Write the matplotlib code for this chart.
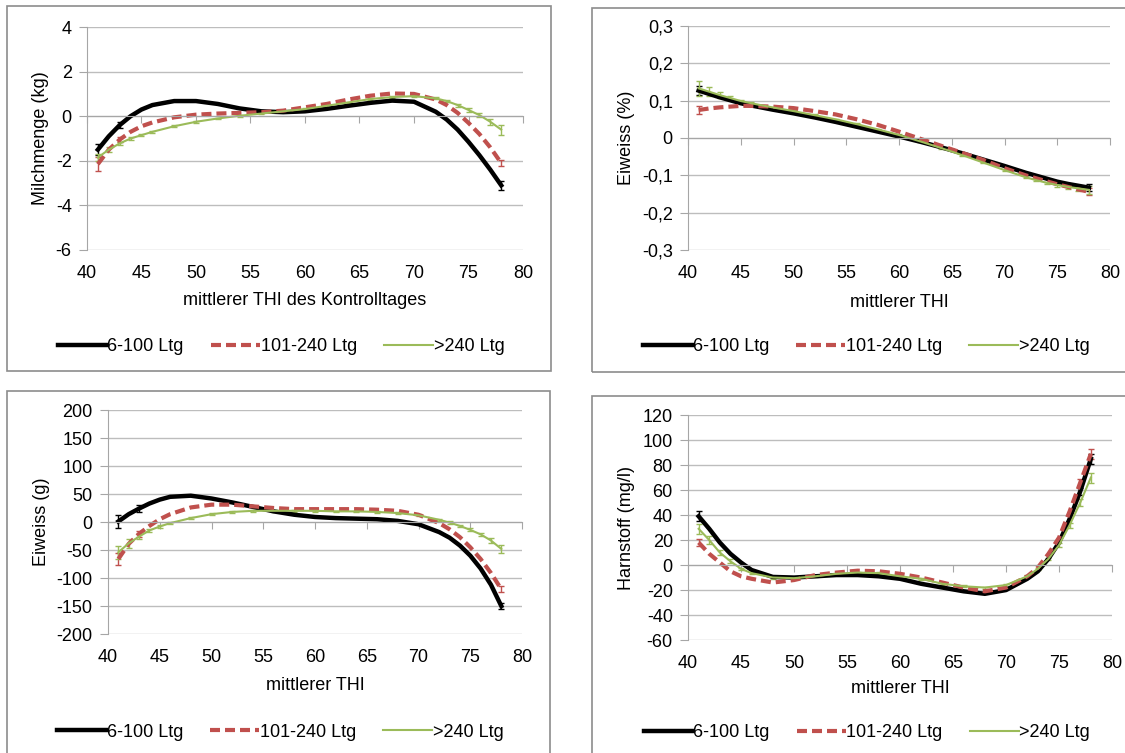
import matplotlib.pyplot as plt
import numpy as np
from matplotlib.patches import Rectangle
from matplotlib.ticker import FixedLocator, FixedFormatter

plt.rcParams['font.family'] = ['Liberation Sans', 'DejaVu Sans']
plt.rcParams['axes.unicode_minus'] = False

# THI values (x) shared by every series
thi = [41, 42, 43, 44, 45, 46, 48, 50, 52, 54, 56, 58, 60, 62, 64, 66, 68, 70, 72, 73, 74, 75, 76, 77, 78]
labels = ['6-100 Ltg', '101-240 Ltg', '>240 Ltg']
N = None  # error bar hidden under the thick line

# Milchmenge (kg)
milch_a = [-1.5, -0.9, -0.4, 0.0, 0.3, 0.5, 0.68, 0.68, 0.55, 0.35, 0.22, 0.18, 0.22, 0.33, 0.47, 0.6, 0.7, 0.65, 0.2, -0.15, -0.6, -1.15, -1.75, -2.4, -3.1]
milch_b = [-2.15, -1.5, -1.05, -0.7, -0.45, -0.28, -0.05, 0.07, 0.12, 0.15, 0.18, 0.25, 0.4, 0.55, 0.75, 0.92, 1.02, 1.0, 0.75, 0.5, 0.15, -0.3, -0.8, -1.4, -2.1]
milch_c = [-1.85, -1.5, -1.22, -1.0, -0.85, -0.7, -0.45, -0.25, -0.1, 0.02, 0.12, 0.22, 0.32, 0.47, 0.62, 0.77, 0.86, 0.9, 0.8, 0.68, 0.5, 0.28, 0.05, -0.25, -0.6]
milch_err_a = [0.26, N, 0.12, N, N, N, N, N, N, N, N, N, N, N, N, N, N, N, N, N, N, N, N, N, 0.2]
milch_err_b = [0.3, N, 0.12, N, N, N, N, N, N, N, N, N, N, N, N, N, N, N, N, N, N, N, N, N, 0.15]
milch_err_c = [0.15, 0.1, 0.07, 0.05, 0.05, 0.05, 0.04, 0.04, 0.04, 0.04, 0.04, 0.04, 0.04, 0.04, 0.04, 0.04, 0.04, 0.04, 0.05, 0.06, 0.07, 0.08, 0.1, 0.14, 0.22]

# Eiweiss (%)
eiw_pct_a = [0.127, 0.118, 0.109, 0.101, 0.093, 0.087, 0.076, 0.066, 0.055, 0.043, 0.030, 0.017, 0.004, -0.010, -0.025, -0.041, -0.058, -0.075, -0.093, -0.101, -0.109, -0.117, -0.123, -0.128, -0.133]
eiw_pct_b = [0.075, 0.079, 0.082, 0.084, 0.086, 0.086, 0.084, 0.080, 0.072, 0.063, 0.050, 0.035, 0.017, -0.002, -0.021, -0.040, -0.059, -0.081, -0.100, -0.108, -0.116, -0.124, -0.131, -0.138, -0.144]
eiw_pct_c = [0.133, 0.124, 0.115, 0.107, 0.099, 0.093, 0.082, 0.072, 0.061, 0.050, 0.037, 0.023, 0.008, -0.009, -0.027, -0.046, -0.066, -0.086, -0.105, -0.113, -0.120, -0.126, -0.131, -0.135, -0.139]
eiw_pct_err_a = [0.012, N, N, N, N, N, N, N, N, N, N, N, N, N, N, N, N, N, N, N, N, N, N, N, 0.01]
eiw_pct_err_b = [0.012, N, N, N, N, N, N, N, N, N, N, N, N, N, N, N, N, N, N, N, N, N, N, N, 0.01]
eiw_pct_err_c = [0.02, 0.012, 0.008, 0.005, 0.004, 0.003, 0.002, 0.002, 0.002, 0.002, 0.002, 0.002, 0.002, 0.002, 0.002, 0.002, 0.002, 0.002, 0.002, 0.003, 0.003, 0.004, 0.005, 0.007, 0.01]

# Eiweiss (g)
eiw_g_a = [1, 14, 24, 33, 40, 45, 47, 42, 35, 27, 19, 13, 9, 7, 6, 5, 2, -4, -18, -28, -42, -60, -83, -112, -150]
eiw_g_b = [-66, -39, -21, -7, 5, 14, 26, 31, 31, 28, 25, 23, 23, 23, 23, 22, 20, 13, -2, -13, -27, -45, -66, -91, -120]
eiw_g_c = [-54, -38, -26, -15, -8, -2, 7, 14, 18, 20, 20, 20, 20, 19, 19, 18, 16, 12, 4, -1, -7, -14, -22, -33, -48]
eiw_g_err_a = [12, N, 6, N, N, N, N, N, N, N, N, N, N, N, N, N, N, N, N, N, N, N, N, N, 5]
eiw_g_err_b = [10, N, 5, N, N, N, N, N, N, N, N, N, N, N, N, N, N, N, N, N, N, N, N, N, 5]
eiw_g_err_c = [12, 8, 5, 3, 2, 2, 1.5, 1.5, 1.5, 1.5, 1.5, 1.5, 1.5, 1.5, 1.5, 1.5, 1.5, 1.5, 1.5, 2, 2, 2.5, 3, 5, 7]

# Harnstoff (mg/l)
harn_a = [39, 29, 18, 9, 2, -4, -9.5, -10, -9, -8, -8, -9, -11, -15, -18, -21, -23, -20, -11, -5, 5, 18, 37, 59, 85]
harn_b = [18, 9, 2, -5, -9, -11, -14, -12, -8, -6, -4.5, -5, -7, -10, -14, -18, -21, -18, -9, -2, 9, 22, 43, 66, 89]
harn_c = [29, 20, 10, 3, -3, -6.5, -10, -10.5, -9, -7, -6, -6.5, -9, -11, -15, -17, -18, -16, -9, -3, 5, 16, 32, 50, 70]
harn_err_a = [4, N, N, N, N, N, N, N, N, N, N, N, N, N, N, N, N, N, N, N, N, N, N, 3, 4]
harn_err_b = [3, N, N, N, N, N, N, N, N, N, N, N, N, N, N, N, N, N, N, N, N, N, N, 3, 4]
harn_err_c = [4, 3, 2, 1.5, 1, 1, 0.8, 0.8, 0.8, 0.8, 0.8, 0.8, 0.8, 0.8, 0.8, 0.8, 0.8, 0.8, 0.8, 1, 1, 1.5, 2, 3, 4]

colors = ['#000000', '#C0504D', '#9BBB59']
widths = [3.2, 3.0, 1.5]

panels = [
    dict(rect=[0.0773, 0.668, 0.3876, 0.2961], frame=(7, 6, 551, 371),
         series=[milch_a, milch_b, milch_c], errs=[milch_err_a, milch_err_b, milch_err_c],
         ylim=(-6, 4), yticks=[-6, -4, -2, 0, 2, 4], yticklabels=['-6', '-4', '-2', '0', '2', '4'],
         ylabel='Milchmenge (kg)', xlabel='mittlerer THI des Kontrolltages',
         ylab_x=-0.087, xlab_y=-0.188, leg=(0.445, -0.435)),
    dict(rect=[0.6116, 0.668, 0.3751, 0.2975], frame=(592, 8, 1140, 372),
         series=[eiw_pct_a, eiw_pct_b, eiw_pct_c], errs=[eiw_pct_err_a, eiw_pct_err_b, eiw_pct_err_c],
         ylim=(-0.3, 0.3), yticks=[-0.3, -0.2, -0.1, 0, 0.1, 0.2, 0.3],
         yticklabels=['-0,3', '-0,2', '-0,1', '0', '0,1', '0,2', '0,3'],
         ylabel='Eiweiss (%)', xlabel='mittlerer THI',
         ylab_x=-0.126, xlab_y=-0.196, leg=(0.422, -0.433)),
    dict(rect=[0.096, 0.158, 0.368, 0.2975], frame=(7, 391, 550, 770),
         series=[eiw_g_a, eiw_g_b, eiw_g_c], errs=[eiw_g_err_a, eiw_g_err_b, eiw_g_err_c],
         ylim=(-200, 200), yticks=list(range(-200, 201, 50)),
         yticklabels=[str(v) for v in range(-200, 201, 50)],
         ylabel='Eiweiss (g)', xlabel='mittlerer THI',
         ylab_x=-0.140, xlab_y=-0.192, leg=(0.416, -0.4375)),
    dict(rect=[0.6116, 0.150, 0.3769, 0.2988], frame=(592, 396, 1140, 770),
         series=[harn_a, harn_b, harn_c], errs=[harn_err_a, harn_err_b, harn_err_c],
         ylim=(-60, 120), yticks=list(range(-60, 121, 20)),
         yticklabels=[str(v) for v in range(-60, 121, 20)],
         ylabel='Harnstoff (mg/l)', xlabel='mittlerer THI',
         ylab_x=-0.125, xlab_y=-0.178, leg=(0.422, -0.413)),
]

W, H = 1125, 753
fig = plt.figure(figsize=(W / 100, H / 100), dpi=100)

for p in panels:
    x0, y0, x1, y1 = p['frame']
    fig.patches.append(Rectangle((x0 / W, 1 - y1 / H), (x1 - x0) / W, (y1 - y0) / H,
                                 transform=fig.transFigure, fill=False,
                                 edgecolor='#8C8C8C', linewidth=1.2))

    ax = fig.add_axes(p['rect'])
    ax.set_xlim(40, 80)
    ax.set_ylim(*p['ylim'])
    ax.yaxis.set_major_locator(FixedLocator(p['yticks']))
    ax.yaxis.set_major_formatter(FixedFormatter(p['yticklabels']))
    ax.grid(axis='y', color='#BDBDBD', linewidth=1.0)
    ax.set_axisbelow(True)

    for s in ['top', 'right']:
        ax.spines[s].set_visible(False)
    ax.spines['left'].set_color('#A6A6A6')
    ax.spines['bottom'].set_color('#A6A6A6')
    ax.spines['bottom'].set_position(('data', 0))
    ax.set_xticks(range(40, 81, 5))
    ax.tick_params(axis='x', labelbottom=False, direction='out', length=5, color='#A6A6A6')
    ax.tick_params(axis='y', direction='out', length=6, color='#A6A6A6', labelsize=13, pad=5)

    sec = ax.secondary_xaxis('bottom')
    sec.spines['bottom'].set_visible(False)
    sec.set_xticks(range(40, 81, 5))
    sec.tick_params(length=0, labelsize=13, pad=11)

    handles = []
    for i, (vals, err) in enumerate(zip(p['series'], p['errs'])):
        yerr = np.array([np.nan if e is None else e for e in err], dtype=float)
        eb = ax.errorbar(thi, vals, yerr=yerr, color=colors[i], linewidth=widths[i],
                         elinewidth=1.0, capsize=2.5, capthick=1.0, label=labels[i])
        if i == 1:
            eb.lines[0].set_dashes((2.4, 1.2))
        handles.append(eb.lines[0])

    ax.set_ylabel(p['ylabel'], fontsize=13)
    ax.yaxis.set_label_coords(p['ylab_x'], 0.5)
    ax.set_xlabel(p['xlabel'], fontsize=13)
    ax.xaxis.set_label_coords(0.5, p['xlab_y'])

    ax.legend(handles, labels, loc='center', bbox_to_anchor=p['leg'], ncol=3,
              frameon=False, fontsize=13, handlelength=2.7, handletextpad=0.05,
              columnspacing=1.5)

fig.savefig('out.png', dpi=100)
